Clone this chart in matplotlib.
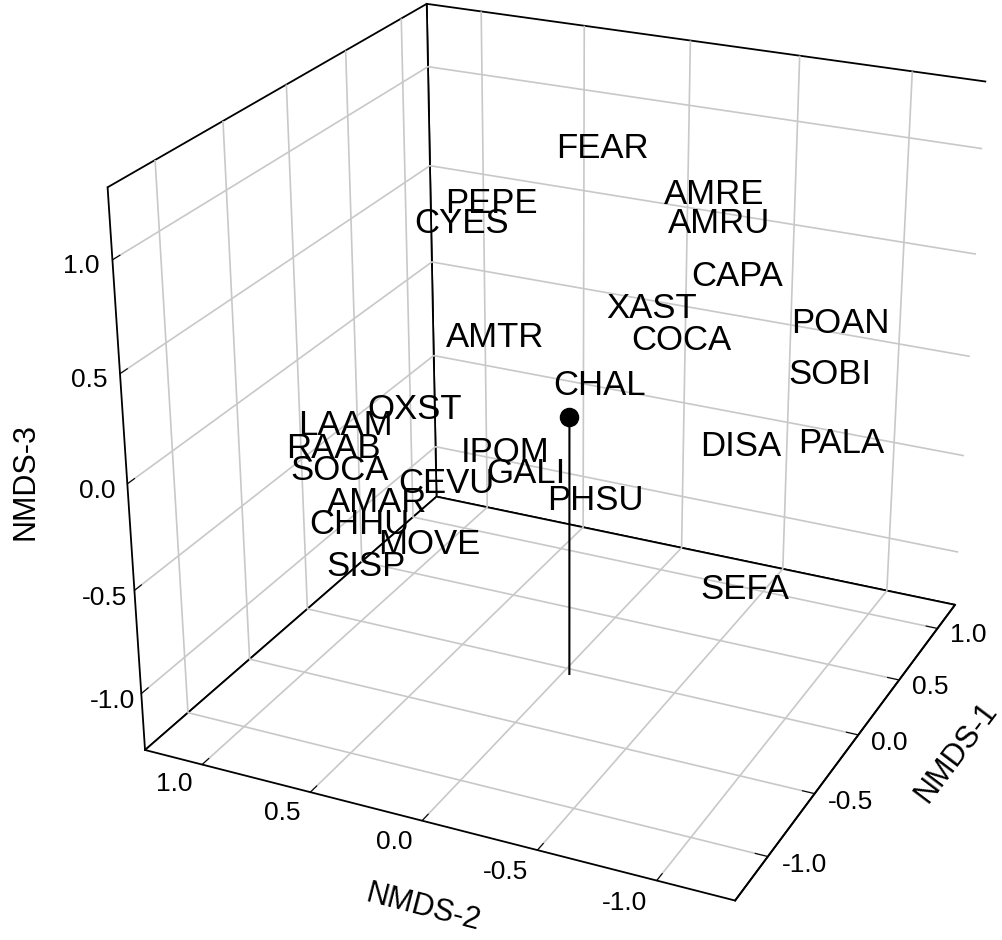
import numpy as np
import matplotlib
matplotlib.use('Agg')
import matplotlib.pyplot as plt

plt.rcParams['font.family'] = ['Liberation Sans', 'DejaVu Sans']
plt.rcParams['grid.color'] = '#c8c8c8'
plt.rcParams['grid.linewidth'] = 1.2
plt.rcParams['axes.unicode_minus'] = False

# species scores (NMDS-1, NMDS-2, NMDS-3)
species = ['FEAR', 'PEPE', 'CYES', 'AMRE', 'AMRU', 'CAPA', 'XAST', 'COCA', 'POAN',
           'AMTR', 'SOBI', 'CHAL', 'OXST', 'LAAM', 'RAAB', 'SOCA', 'CEVU', 'IPOM',
           'GALI', 'PHSU', 'AMAR', 'CHHU', 'MOVE', 'SISP', 'DISA', 'PALA', 'SEFA']
nmds1 = [0.01, -0.17, -0.22, 0.20, 0.21, 0.24, 0.10, 0.15, 0.42,
         -0.17, 0.41, 0.01, -0.31, -0.43, -0.45, -0.44, -0.26, -0.15,
         -0.12, 0.00, -0.38, -0.41, -0.29, -0.40, 0.25, 0.43, 0.27]
nmds2 = [-0.15, 0.25, 0.36, -0.55, -0.57, -0.64, -0.33, -0.44, -1.02,
         0.24, -0.99, -0.14, 0.54, 0.80, 0.85, 0.83, 0.43, 0.21,
         0.13, -0.13, 0.69, 0.76, 0.50, 0.74, -0.67, -1.04, -0.70]
nmds3 = [1.24, 0.99, 0.90, 1.03, 0.90, 0.66, 0.51, 0.36, 0.44,
         0.38, 0.20, 0.15, 0.04, -0.04, -0.15, -0.26, -0.32, -0.17,
         -0.27, -0.40, -0.41, -0.52, -0.62, -0.73, -0.14, -0.13, -0.85]

# the single plotted point with its drop line
point1 = [-0.04]
point2 = [-0.03]
point3 = [0.00]

xlim = (-1.33, 1.24)
ylim = (-1.32, 1.27)
zlim = (-1.28, 1.31)
ticks = [-1.0, -0.5, 0.0, 0.5, 1.0]
tick_labels = ['-1.0', '-0.5', '0.0', '0.5', '1.0']

fig = plt.figure(figsize=(10.02, 9.4), dpi=100)
ax = fig.add_axes([0.054, 0.046, 1, 1], projection='3d')
ax.view_init(elev=24.5, azim=-155.0)
ax.set_proj_type('persp', focal_length=0.6)
ax.set_xlim(xlim)
ax.set_ylim(ylim)
ax.set_zlim(zlim)
ax.set_box_aspect((1, 1, 0.94), zoom=1.11)

for axis in (ax.xaxis, ax.yaxis, ax.zaxis):
    axis.set_pane_color((1, 1, 1, 1))
    axis.pane.set_edgecolor('black')
    axis.pane.set_linewidth(1.3)
    axis.line.set_color('black')
    axis.line.set_linewidth(1.3)
    axis._axinfo['tick']['inward_factor'] = 0.0
    axis._axinfo['tick']['outward_factor'] = 0.25
    axis._axinfo['grid']['color'] = '#c8c8c8'

ax.set_xticks(ticks)
ax.set_yticks(ticks)
ax.set_zticks(ticks)
ax.set_xticklabels(tick_labels, fontsize=19)
ax.set_yticklabels(tick_labels, fontsize=19)
ax.set_zticklabels(tick_labels, fontsize=19)
for lab in ax.get_xticklabels():
    lab.set_ha('left')
    lab.set_va('baseline')
for lab in ax.get_yticklabels():
    lab.set_ha('right')
    lab.set_va('baseline')
for lab in ax.get_zticklabels():
    lab.set_va('center_baseline')
ax.tick_params(axis='x', pad=0)

# axis titles placed by hand, like the original
fig.text(956 / 1002, 1 - 752 / 940, 'NMDS-1', fontsize=22, rotation=53,
         ha='center', va='center', rotation_mode='anchor')
fig.text(423 / 1002, 1 - 908 / 940, 'NMDS-2', fontsize=22, rotation=-14.5,
         ha='center', va='center', rotation_mode='anchor')
fig.text(26 / 1002, 1 - 481 / 940, 'NMDS-3', fontsize=22, rotation=90,
         ha='center', va='center', rotation_mode='anchor')

for name, a, b, c in zip(species, nmds1, nmds2, nmds3):
    ax.text(a, b, c, name, fontsize=25, ha='center', va='center')

ax.scatter(point1, point2, point3, s=170, c='black', depthshade=False)
for a, b, c in zip(point1, point2, point3):
    ax.plot([a, a], [b, b], [c, zlim[0]], color='black', lw=1.5)

fig.savefig('out.png', dpi=100)
